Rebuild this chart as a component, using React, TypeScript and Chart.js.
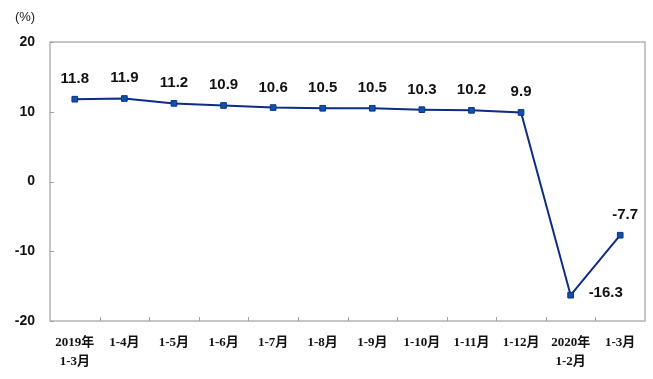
import React, { useEffect, useRef } from "react";
import { Chart, registerables } from "chart.js";

Chart.register(...registerables);

const categories = [
  "2019年\n1-3月",
  "1-4月",
  "1-5月",
  "1-6月",
  "1-7月",
  "1-8月",
  "1-9月",
  "1-10月",
  "1-11月",
  "1-12月",
  "2020年\n1-2月",
  "1-3月",
];
const growth = [11.8, 11.9, 11.2, 10.9, 10.6, 10.5, 10.5, 10.3, 10.2, 9.9, -16.3, -7.7];
const yTicks = [20, 10, 0, -10, -20];
const unitLabel = "(%)";

const LINE = "#0d2d82";
const MARKER = "#1250b0";

const decorPlugin = {
  id: "decor",
  beforeDatasetsDraw(chart: any) {
    const { ctx, chartArea } = chart;
    const { left, right, top, bottom } = chartArea;
    ctx.save();
    ctx.strokeStyle = "#b4b4b4";
    ctx.lineWidth = 1.5;
    ctx.strokeRect(left, top, right - left, bottom - top);
    // x tick marks at category boundaries
    const xs = chart.scales.x;
    ctx.lineWidth = 1;
    ctx.strokeStyle = "#a0a0a0";
    for (let i = 1; i < categories.length; i++) {
      const x = (xs.getPixelForValue(i - 1) + xs.getPixelForValue(i)) / 2;
      ctx.beginPath();
      ctx.moveTo(Math.round(x) + 0.5, bottom);
      ctx.lineTo(Math.round(x) + 0.5, bottom - 4);
      ctx.stroke();
    }
    // y tick marks
    const ys = chart.scales.y;
    for (const v of yTicks) {
      const y = Math.round(ys.getPixelForValue(v)) + 0.5;
      ctx.beginPath();
      ctx.moveTo(left, y);
      ctx.lineTo(left + 4, y);
      ctx.stroke();
    }
    // unit label
    ctx.fillStyle = "#222";
    ctx.font = '13px "Liberation Sans", Arial, sans-serif';
    ctx.textAlign = "center";
    ctx.textBaseline = "middle";
    ctx.fillText(unitLabel, 25, 17);
    ctx.restore();
  },
  afterDatasetsDraw(chart: any) {
    const { ctx } = chart;
    const meta = chart.getDatasetMeta(0);
    const minVal = Math.min(...growth);
    ctx.save();
    ctx.fillStyle = "#111";
    ctx.font = 'bold 15px "Liberation Sans", Arial, sans-serif';
    meta.data.forEach((pt: any, i: number) => {
      const v = growth[i];
      const txt = v.toFixed(1);
      if (v === minVal) {
        ctx.textAlign = "left";
        ctx.textBaseline = "middle";
        ctx.fillText(txt, pt.x + 18, pt.y - 2);
      } else {
        ctx.textAlign = "center";
        ctx.textBaseline = "alphabetic";
        ctx.fillText(txt, pt.x + (v < 0 ? 5 : 0), pt.y - 16);
      }
    });
    ctx.restore();
  },
};

export default function App() {
  const ref = useRef<HTMLCanvasElement>(null);
  useEffect(() => {
    if (!ref.current) return;
    const chart = new Chart(ref.current, {
      type: "line",
      data: {
        labels: categories.map((c) => c.split("\n")),
        datasets: [
          {
            data: growth,
            borderColor: LINE,
            borderWidth: 2,
            backgroundColor: MARKER,
            pointStyle: "rect",
            pointRadius: 4,
            pointBorderColor: "#0a3580",
            pointBorderWidth: 1,
            tension: 0,
            fill: false,
          },
        ],
      },
      options: {
        responsive: false,
        animation: false,
        layout: { padding: { left: 8, right: 8, top: 42, bottom: 0 } },
        plugins: { legend: { display: false }, tooltip: { enabled: false } },
        scales: {
          x: {
            type: "category",
            offset: true,
            grid: { display: false, drawTicks: false },
            border: { display: false },
            ticks: {
              autoSkip: false,
              maxRotation: 0,
              padding: 13,
              color: "#111",
              font: {
                family: '"Liberation Serif", "Noto Sans CJK SC", serif',
                weight: "bold",
                size: 13,
                lineHeight: 1.4,
              },
            },
            afterFit: (s: any) => {
              s.height = 58;
            },
          },
          y: {
            min: -20,
            max: 20,
            grid: { display: false, drawTicks: false },
            border: { display: false },
            afterBuildTicks: (s: any) => {
              s.ticks = yTicks.map((v) => ({ value: v }));
            },
            ticks: {
              padding: 15,
              color: "#111",
              font: { family: '"Liberation Sans", Arial, sans-serif', weight: "bold", size: 14 },
            },
            afterFit: (s: any) => {
              s.width = 42;
            },
          },
        },
      },
      plugins: [decorPlugin],
    } as any);
    return () => chart.destroy();
  }, []);
  return (
    <div style={{ position: "fixed", left: 0, top: 0, width: 653, height: 379, background: "#fff" }}>
      <canvas ref={ref} width={653} height={379} />
    </div>
  );
}
